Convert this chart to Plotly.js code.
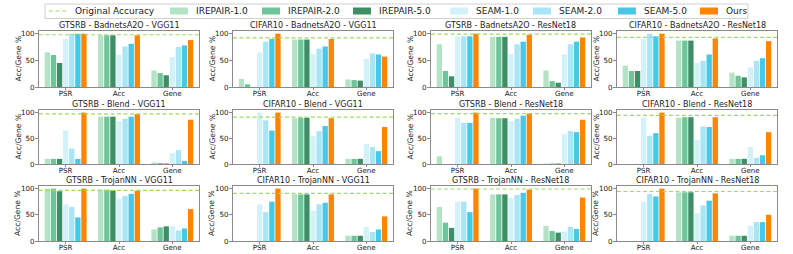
<!DOCTYPE html>
<html><head><meta charset="utf-8">
<script src="https://cdn.plot.ly/plotly-3.0.1.min.js"></script>
<style>html,body{margin:0;padding:0;background:#fff}#chart{width:793px;height:254px}</style>
</head><body><div id="chart"></div>
<script>
// ---------------- DATA ----------------
const categories = ['PSR', 'Acc', 'Gene'];
const seriesNames = ['IREPAIR-1.0', 'IREPAIR-2.0', 'IREPAIR-5.0', 'SEAM-1.0', 'SEAM-2.0', 'SEAM-5.0', 'Ours'];
const panelTitles = [
  'GTSRB - BadnetsA2O - VGG11', 'CIFAR10 - BadnetsA2O - VGG11', 'GTSRB - BadnetsA2O - ResNet18', 'CIFAR10 - BadnetsA2O - ResNet18',
  'GTSRB - Blend - VGG11', 'CIFAR10 - Blend - VGG11', 'GTSRB - Blend - ResNet18', 'CIFAR10 - Blend - ResNet18',
  'GTSRB - TrojanNN - VGG11', 'CIFAR10 - TrojanNN - VGG11', 'GTSRB - TrojanNN - ResNet18', 'CIFAR10 - TrojanNN - ResNet18'
];
const originalAccuracy = [98, 92, 99, 93, 97.5, 91, 98, 94.5, 96.5, 91, 99.3, 94.5];
const yTicks = [0, 50, 100];
const yLabel = 'Acc/Gene %';
const legendLineLabel = 'Original Accuracy';

// each row: one series, values for [PSR, Acc, Gene]
const gtsrbBadnetsVgg11 = [[65, 97, 31], [60, 97, 26], [45, 97, 22], [90, 60, 56], [100, 76, 75], [100, 81, 78], [100, 97, 88]];
const cifarBadnetsVgg11 = [[15, 89, 14], [5, 89, 13], [0, 89, 12], [65, 62, 53], [85, 72, 63], [90, 76, 61], [100, 90, 57]];
const gtsrbBadnetsRes18 = [[80, 94, 31], [30, 94, 11], [20, 94, 8], [95, 62, 61], [95, 80, 80], [95, 85, 85], [100, 98, 93]];
const cifarBadnetsRes18 = [[40, 87, 27], [30, 87, 21], [30, 87, 18], [90, 45, 37], [100, 49, 49], [95, 61, 54], [100, 91, 86]];
const gtsrbBlendVgg11   = [[10, 92, 3], [10, 92, 2], [10, 92, 1], [65, 83, 21], [30, 88, 27], [10, 92, 6], [100, 97, 86]];
const cifarBlendVgg11   = [[0, 89, 10], [0, 90, 10], [0, 90, 10], [100, 54, 39], [85, 64, 33], [65, 74, 25], [100, 89, 72]];
const gtsrbBlendRes18   = [[15, 90, 1], [0, 89, 1], [0, 89, 1], [90, 83, 58], [80, 88, 64], [80, 94, 62], [100, 98, 86]];
const cifarBlendRes18   = [[0, 90, 10], [0, 91, 10], [0, 91, 10], [90, 47, 33], [55, 73, 12], [60, 72, 17], [100, 91, 62]];
const gtsrbTrojanVgg11  = [[100, 98, 22], [100, 98, 26], [95, 97, 28], [70, 81, 28], [65, 86, 20], [45, 90, 24], [100, 96, 61]];
const cifarTrojanVgg11  = [[0, 89, 10], [0, 89, 10], [0, 89, 10], [70, 58, 27], [55, 70, 17], [75, 73, 22], [100, 89, 47]];
const gtsrbTrojanRes18  = [[65, 89, 29], [35, 89, 19], [25, 89, 16], [75, 82, 18], [75, 88, 27], [55, 92, 23], [100, 98, 83]];
const cifarTrojanRes18  = [[0, 93, 10], [0, 93, 10], [0, 93, 10], [75, 53, 29], [90, 68, 36], [85, 77, 36], [100, 91, 50]];

const panels = [
  gtsrbBadnetsVgg11, cifarBadnetsVgg11, gtsrbBadnetsRes18, cifarBadnetsRes18,
  gtsrbBlendVgg11, cifarBlendVgg11, gtsrbBlendRes18, cifarBlendRes18,
  gtsrbTrojanVgg11, cifarTrojanVgg11, gtsrbTrojanRes18, cifarTrojanRes18
];

// ---------------- STYLE / LAYOUT ----------------
const colors = ['#b3e3c4', '#6ec59a', '#3e8e66', '#d3f1f9', '#a9e5f4', '#48c7e6', '#ff8500'];
const lineColor = '#a0dc62';
const W = 793, H = 254;
const colPx = [[39, 199], [233, 393], [431, 591], [617, 777]];
const rowPx = [[31, 87], [110, 164], [186, 241]];
const FONT = 'DejaVu Sans, Arial, sans-serif';
const frameColor = '#8a8a8a';

const px = x => x / W;
const py = y => 1 - y / H;

const data = [];
const layout = {
  width: W, height: H,
  margin: {l: 0, r: 0, t: 0, b: 0},
  paper_bgcolor: '#fff', plot_bgcolor: '#fff',
  barmode: 'group', bargap: 0.2, bargroupgap: 0.13,
  showlegend: false,
  font: {family: FONT, color: '#222'},
  annotations: [], shapes: []
};

panels.forEach((vals, p) => {
  const r = Math.floor(p / 4), c = p % 4;
  const k = p + 1;
  const xa = 'x' + (k === 1 ? '' : k), ya = 'y' + (k === 1 ? '' : k);
  vals.forEach((series, s) => {
    data.push({
      type: 'bar', x: [0, 1, 2], y: series, name: seriesNames[s],
      marker: {color: colors[s], line: {width: 0}},
      xaxis: xa, yaxis: ya, hoverinfo: 'skip', showlegend: false
    });
  });
  data.push({
    type: 'scatter', mode: 'lines', x: [-0.5, 2.5], y: [originalAccuracy[p], originalAccuracy[p]],
    line: {color: lineColor, width: 1.2, dash: '4px,2.5px'},
    xaxis: xa, yaxis: ya, hoverinfo: 'skip', showlegend: false
  });
  const axCommon = {
    showline: true, mirror: true, linecolor: frameColor, linewidth: 1,
    ticks: 'outside', tickwidth: 1, tickcolor: frameColor,
    showgrid: false, zeroline: false, fixedrange: true,
    tickfont: {family: FONT, size: 7.1, color: '#222'}
  };
  layout['xaxis' + (k === 1 ? '' : k)] = Object.assign({}, axCommon, {
    domain: [px(colPx[c][0]), px(colPx[c][1])], anchor: ya, ticklen: 2,
    range: [-0.5, 2.5], tickmode: 'array', tickvals: [0, 1, 2], ticktext: categories,
    ticklabelstandoff: -3
  });
  layout['yaxis' + (k === 1 ? '' : k)] = Object.assign({}, axCommon, {
    domain: [py(rowPx[r][1]), py(rowPx[r][0])], anchor: xa, ticklen: 3,
    range: [0, 105], tickmode: 'array', tickvals: yTicks, ticktext: yTicks.map(String),
    ticklabelstandoff: -1
  });
  const cx = (colPx[c][0] + colPx[c][1]) / 2;
  layout.annotations.push({
    text: panelTitles[p], xref: 'paper', yref: 'paper', x: px(cx), y: py(rowPx[r][0] - 0.5),
    xanchor: 'center', yanchor: 'bottom', showarrow: false, borderpad: 0,
    font: {family: FONT, size: 8, color: '#222'}
  });
  layout.annotations.push({
    text: yLabel, xref: 'paper', yref: 'paper', x: px(colPx[c][0] - 21.5),
    y: py((rowPx[r][0] + rowPx[r][1]) / 2), xanchor: 'center', yanchor: 'middle',
    textangle: -90, showarrow: false, font: {family: FONT, size: 7.6, color: '#222'}
  });
});

// ---------------- LEGEND (drawn manually to mimic the reference) ----------------
const legY = 11;
layout.shapes.push({type: 'rect', xref: 'paper', yref: 'paper', x0: px(45), x1: px(748), y0: py(4), y1: py(18.5),
  line: {color: '#d0d0d0', width: 1}, fillcolor: 'rgba(255,255,255,0.9)', layer: 'above'});
layout.shapes.push({type: 'line', xref: 'paper', yref: 'paper', x0: px(49), x1: px(67), y0: py(legY), y1: py(legY),
  line: {color: lineColor, width: 1.2, dash: '4px,2.5px'}, layer: 'above'});
layout.annotations.push({text: legendLineLabel, xref: 'paper', yref: 'paper', x: px(73), y: py(legY),
  xanchor: 'left', yanchor: 'middle', showarrow: false, font: {family: FONT, size: 9, color: '#222'}});
const patchX = [170, 262, 353, 450, 533, 618, 700];
seriesNames.forEach((nm, s) => {
  layout.shapes.push({type: 'rect', xref: 'paper', yref: 'paper', x0: px(patchX[s]), x1: px(patchX[s] + 18),
    y0: py(legY + 3.5), y1: py(legY - 3.5), line: {width: 0}, fillcolor: colors[s], layer: 'above'});
  layout.annotations.push({text: nm, xref: 'paper', yref: 'paper', x: px(patchX[s] + 24), y: py(legY),
    xanchor: 'left', yanchor: 'middle', showarrow: false, font: {family: FONT, size: 9, color: '#222'}});
});

Plotly.newPlot('chart', data, layout, {staticPlot: true, displayModeBar: false});
</script>
</body></html>
